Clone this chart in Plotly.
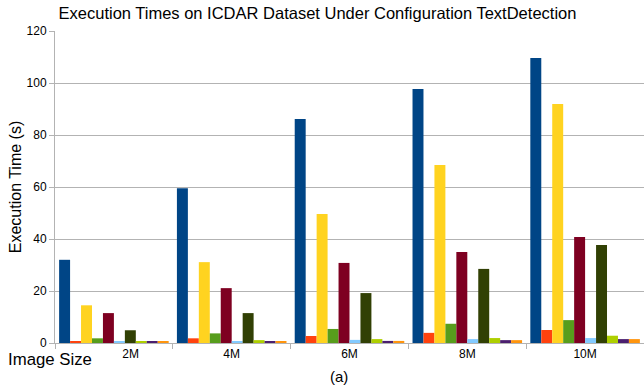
import plotly.graph_objects as go

categories = ["2M", "4M", "6M", "8M", "10M"]
tick_labels = ["\u00a0" * 10 + "2M", "4M", "6M", "8M", "10M"]
series_names = ["S1", "S2", "S3", "S4", "S5", "S6", "S7", "S8", "S9", "S10"]
series_values = [
    [32.0, 59.5, 86.2, 97.7, 109.6],
    [0.7, 1.8, 2.7, 3.9, 5.0],
    [14.5, 31.1, 49.6, 68.5, 91.9],
    [1.8, 3.7, 5.4, 7.4, 8.8],
    [11.5, 21.1, 30.8, 35.0, 40.8],
    [0.4, 0.7, 1.2, 1.5, 1.9],
    [4.9, 11.5, 19.2, 28.5, 37.7],
    [0.5, 1.1, 1.5, 1.9, 2.8],
    [0.4, 0.4, 0.8, 1.1, 1.5],
    [0.5, 0.4, 0.8, 1.1, 1.5],
]
colors = ["#004586", "#ff420e", "#ffd320", "#579d1c", "#7e0021",
          "#83caff", "#314004", "#aecf00", "#4b1f6f", "#ff950e"]

font = "Liberation Sans, Arial, sans-serif"
fig = go.Figure()
for name, vals, c in zip(series_names, series_values, colors):
    fig.add_trace(go.Bar(x=categories, y=vals, name=name, marker_color=c,
                         marker_line_width=0))

fig.update_layout(
    width=644, height=388,
    margin=dict(l=55, r=0, t=31, b=45),
    paper_bgcolor="white", plot_bgcolor="white",
    barmode="group", bargap=0.07, bargroupgap=0,
    showlegend=False,
    font=dict(family=font, size=12, color="black"),
    title=dict(text="Execution Times on ICDAR Dataset Under Configuration TextDetection",
               x=0.493, xanchor="center", y=0.967, yanchor="middle",
               font=dict(size=16.5, color="black")),
)
fig.update_xaxes(
    type="category", tickson="boundaries", ticks="outside", ticklen=5,
    tickcolor="#b3b3b3", showline=True, linecolor="#b3b3b3", linewidth=1,
    tickvals=categories, ticktext=tick_labels, automargin=False,
    tickfont=dict(size=12, color="black"), showgrid=False,
)
fig.update_yaxes(
    range=[0, 120], dtick=20, ticks="outside", ticklen=5, tickcolor="#b3b3b3",
    showline=True, linecolor="#b3b3b3", linewidth=1, automargin=False,
    showgrid=True, gridcolor="#b3b3b3", gridwidth=1, zeroline=False,
    tickfont=dict(size=12, color="black"),
    title=dict(text="Execution Time (s)", font=dict(size=16, color="black"), standoff=0),
)
fig.add_annotation(text="Image Size", xref="paper", yref="paper", x=-0.083, y=-0.053,
                   xanchor="left", yanchor="middle", showarrow=False,
                   font=dict(size=16.8, color="black"))
fig.add_annotation(text="(a)", xref="paper", yref="paper", x=0.482, y=-0.107,
                   xanchor="center", yanchor="middle", showarrow=False,
                   font=dict(size=15, color="black"))
fig.write_html("out.html", config={"displayModeBar": False},
               post_script="document.body.style.margin='0';")
